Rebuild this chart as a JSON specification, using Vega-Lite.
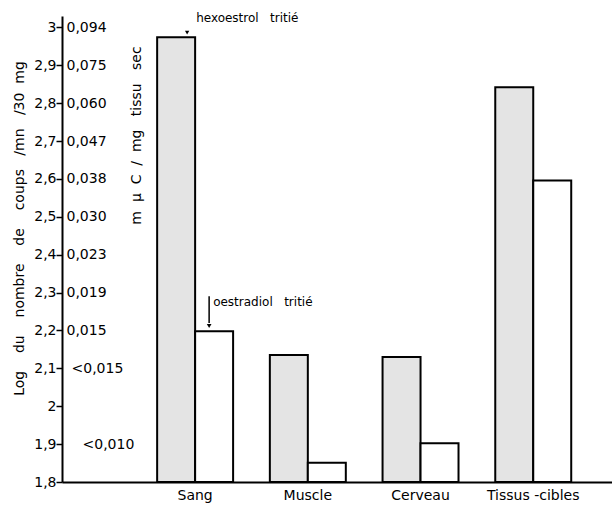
{
  "$schema": "https://vega.github.io/schema/vega-lite/v6.json",
  "width": 550,
  "height": 466,
  "autosize": "none",
  "padding": {"left": 62, "top": 16, "right": 0, "bottom": 24},
  "background": "white",
  "config": {"view": {"stroke": null}, "font": "DejaVu Sans", "text": {"font": "DejaVu Sans"}},
  "datasets": {
    "bars": [
      {"tissu": "Sang", "serie": "hexoestrol", "valeur": 2.974},
      {"tissu": "Sang", "serie": "oestradiol", "valeur": 2.198},
      {"tissu": "Muscle", "serie": "hexoestrol", "valeur": 2.135},
      {"tissu": "Muscle", "serie": "oestradiol", "valeur": 1.851},
      {"tissu": "Cerveau", "serie": "hexoestrol", "valeur": 2.13},
      {"tissu": "Cerveau", "serie": "oestradiol", "valeur": 1.902},
      {"tissu": "Tissus -cibles", "serie": "hexoestrol", "valeur": 2.842},
      {"tissu": "Tissus -cibles", "serie": "oestradiol", "valeur": 2.596}
    ],
    "notes": [
      {"tissu": "Sang", "serie": "hexoestrol", "texte": "hexoestrol\u00a0\u00a0\u00a0tritié", "y": 3.026},
      {"tissu": "Sang", "serie": "oestradiol", "texte": "oestradiol\u00a0\u00a0\u00a0tritié", "y": 2.275}
    ],
    "arrows": [
      {"tissu": "Sang", "serie": "hexoestrol", "y": 2.986},
      {"tissu": "Sang", "serie": "oestradiol", "y": 2.212}
    ],
    "shaft": [
      {"tissu": "Sang", "y": 2.29, "y2": 2.22}
    ]
  },
  "layer": [
    {
      "data": {"name": "bars"},
      "mark": {"type": "bar", "stroke": "black", "strokeWidth": 2},
      "encoding": {
        "x": {
          "field": "tissu", "type": "nominal",
          "sort": ["Sang", "Muscle", "Cerveau", "Tissus -cibles"],
          "scale": {"paddingInner": 0.326, "paddingOuter": 0.603, "align": 0.7},
          "axis": {"title": null, "labelAngle": 0, "labelFontSize": 14, "labelFontWeight": 500, "labelColor": "black", "ticks": false, "labelPadding": 6, "domainColor": "black", "domainWidth": 2}
        },
        "xOffset": {"field": "serie", "type": "nominal", "sort": ["hexoestrol", "oestradiol"], "scale": {"paddingInner": 0, "paddingOuter": 0}},
        "y": {
          "field": "valeur", "type": "quantitative",
          "scale": {"domain": [1.8, 3.03], "zero": false, "nice": false},
          "axis": {
            "values": [1.8, 1.9, 2.0, 2.1, 2.2, 2.3, 2.4, 2.5, 2.6, 2.7, 2.8, 2.9, 3.0],
            "labelExpr": "replace(format(datum.value, '.1~f'), '.', ',')",
            "grid": false,
            "domainColor": "black", "domainWidth": 2,
            "tickColor": "black", "tickSize": 6, "tickWidth": 1.5,
            "labelPadding": 0, "labelFontSize": 14, "labelColor": "black",
            "title": "Log\u00a0\u00a0\u00a0\u00a0du\u00a0\u00a0\u00a0\u00a0nombre\u00a0\u00a0\u00a0\u00a0de\u00a0\u00a0\u00a0\u00a0coups\u00a0\u00a0\u00a0/mn\u00a0\u00a0\u00a0/30\u00a0\u00a0mg",
            "titleFontSize": 14, "titleFontWeight": "normal", "titleColor": "black",
            "titleAngle": 270, "titleX": -43, "titleY": 212, "titleAlign": "center", "titleBaseline": "middle"
          }
        },
        "y2": {"datum": 1.8},
        "fill": {"field": "serie", "type": "nominal", "scale": {"domain": ["hexoestrol", "oestradiol"], "range": ["#e4e4e4", "#ffffff"]}, "legend": null}
      }
    },
    {
      "data": {"name": "notes"},
      "transform": [{"filter": "datum.serie == 'hexoestrol'"}],
      "mark": {"type": "text", "align": "left", "baseline": "middle", "fontSize": 12, "color": "black", "dx": 1},
      "encoding": {
        "x": {"field": "tissu", "type": "nominal", "sort": ["Sang", "Muscle", "Cerveau", "Tissus -cibles"]},
        "y": {
          "field": "y", "type": "quantitative",
          "axis": {
            "orient": "right", "offset": -550,
            "values": [1.8, 1.9, 2.0, 2.1, 2.2, 2.3, 2.4, 2.5, 2.6, 2.7, 2.8, 2.9, 3.0],
            "labelExpr": "['', '<0,010', '', '<0,015', '0,015', '0,019', '0,023', '0,030', '0,038', '0,047', '0,060', '0,075', '0,094'][round(datum.value*10)-18]",
            "grid": false, "domain": false, "ticks": false,
            "labelPadding": {"condition": [{"test": "round(datum.value*10) == 19", "value": 20}, {"test": "round(datum.value*10) == 21", "value": 9}], "value": 4},
            "labelFontSize": 14, "labelColor": "black",
            "title": "m\u00a0\u00a0μ\u00a0\u00a0C\u00a0\u00a0/\u00a0\u00a0mg\u00a0\u00a0\u00a0tissu\u00a0\u00a0\u00a0sec",
            "titleFontSize": 14, "titleFontWeight": "normal", "titleColor": "black",
            "titleAngle": 270, "titleX": 74, "titleY": 119, "titleAlign": "center", "titleBaseline": "middle"
          }
        },
        "text": {"field": "texte"}
      }
    },
    {
      "data": {"name": "notes"},
      "transform": [{"filter": "datum.serie == 'oestradiol'"}],
      "mark": {"type": "text", "align": "left", "baseline": "middle", "fontSize": 12, "color": "black", "dx": 18},
      "encoding": {
        "x": {"field": "tissu", "type": "nominal", "sort": ["Sang", "Muscle", "Cerveau", "Tissus -cibles"]},
        "y": {"field": "y", "type": "quantitative", "axis": null},
        "text": {"field": "texte"}
      }
    },
    {
      "data": {"name": "arrows"},
      "transform": [{"filter": "datum.serie == 'hexoestrol'"}],
      "mark": {"type": "point", "shape": "triangle-down", "filled": true, "color": "black", "size": 18, "opacity": 1, "xOffset": -8},
      "encoding": {
        "x": {"field": "tissu", "type": "nominal", "sort": ["Sang", "Muscle", "Cerveau", "Tissus -cibles"]},
        "y": {"field": "y", "type": "quantitative", "axis": null}
      }
    },
    {
      "data": {"name": "arrows"},
      "transform": [{"filter": "datum.serie == 'oestradiol'"}],
      "mark": {"type": "point", "shape": "triangle-down", "filled": true, "color": "black", "size": 22, "opacity": 1, "xOffset": 14},
      "encoding": {
        "x": {"field": "tissu", "type": "nominal", "sort": ["Sang", "Muscle", "Cerveau", "Tissus -cibles"]},
        "y": {"field": "y", "type": "quantitative", "axis": null}
      }
    },
    {
      "data": {"name": "shaft"},
      "mark": {"type": "rule", "color": "black", "strokeWidth": 1.5, "xOffset": 14},
      "encoding": {
        "x": {"field": "tissu", "type": "nominal", "sort": ["Sang", "Muscle", "Cerveau", "Tissus -cibles"]},
        "y": {"field": "y", "type": "quantitative", "axis": null},
        "y2": {"field": "y2"}
      }
    }
  ],
  "resolve": {"axis": {"y": "independent"}}
}
